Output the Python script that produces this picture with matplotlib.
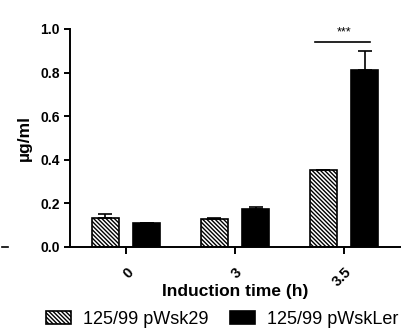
import matplotlib.pyplot as plt
import numpy as np
from matplotlib.lines import Line2D

plt.rcParams['font.family'] = ['Liberation Sans', 'DejaVu Sans']
plt.rcParams['hatch.linewidth'] = 1.0

times = ["0", "3", "3.5"]
wsk29 = [0.133, 0.128, 0.353]
wsk29_err = [0.017, 0.003, 0.0]
wskler = [0.111, 0.174, 0.812]
wskler_err = [0.0, 0.010, 0.088]

fig = plt.figure(figsize=(4.01, 3.31), dpi=100)
ax = fig.add_axes([70 / 401, 1 - 247 / 331, 331 / 401, 218 / 331])

x = np.arange(len(times))
width = 0.25
offset = 0.19

ax.bar(x - offset, wsk29, width=width, color='white', edgecolor='black',
       hatch='\\' * 8, linewidth=1.2, label='125/99 pWsk29')
ax.errorbar(x - offset, wsk29, yerr=[np.zeros(3), wsk29_err], fmt='none',
            ecolor='black', elinewidth=1.2, capsize=5, capthick=1.2)
ax.bar(x + offset, wskler, width=width, color='black', edgecolor='black',
       linewidth=1.2, label='125/99 pWskLer')
ax.errorbar(x + offset, wskler, yerr=[np.zeros(3), wskler_err], fmt='none',
            ecolor='black', elinewidth=1.2, capsize=5, capthick=1.2)

# significance marker at 3.5 h
ax.plot([2 - 0.27, 2 + 0.24], [0.94, 0.94], color='black', lw=1.2)
ax.text(2, 0.955, '***', ha='center', va='bottom', fontsize=9)

ax.set_xlim(-0.514, 2.523)
ax.set_ylim(0, 1.0)
ax.set_yticks([0, 0.2, 0.4, 0.6, 0.8, 1.0])
ax.set_yticklabels(['0.0', '0.2', '0.4', '0.6', '0.8', '1.0'],
                   fontsize=10, fontweight='bold')
ax.set_xticks(x)
ax.set_xticklabels(times, fontsize=10.5, fontweight='bold', rotation=45,
                   ha='right', va='top', rotation_mode='anchor')

for s in ['top', 'right']:
    ax.spines[s].set_visible(False)
for s in ['left', 'bottom']:
    ax.spines[s].set_linewidth(1.4)
ax.tick_params(width=1.4, length=4)
ax.tick_params(axis='x', length=5, pad=8)

ax.set_ylabel('µg/ml', fontsize=12.5, fontweight='bold', labelpad=6)
ax.set_xlabel('Induction time (h)', fontsize=12.5, fontweight='bold', labelpad=-4)

fig.legend(loc='center', bbox_to_anchor=(222 / 401, 1 - 319 / 331), ncol=2,
           frameon=False, fontsize=13, handlelength=1.4, handleheight=0.7,
           handletextpad=0.65, columnspacing=1.2)

fig.add_artist(Line2D([2 / 401, 8 / 401], [1 - 247 / 331, 1 - 247 / 331],
                      color='black', lw=1.2))

fig.savefig('out.png', dpi=100)
